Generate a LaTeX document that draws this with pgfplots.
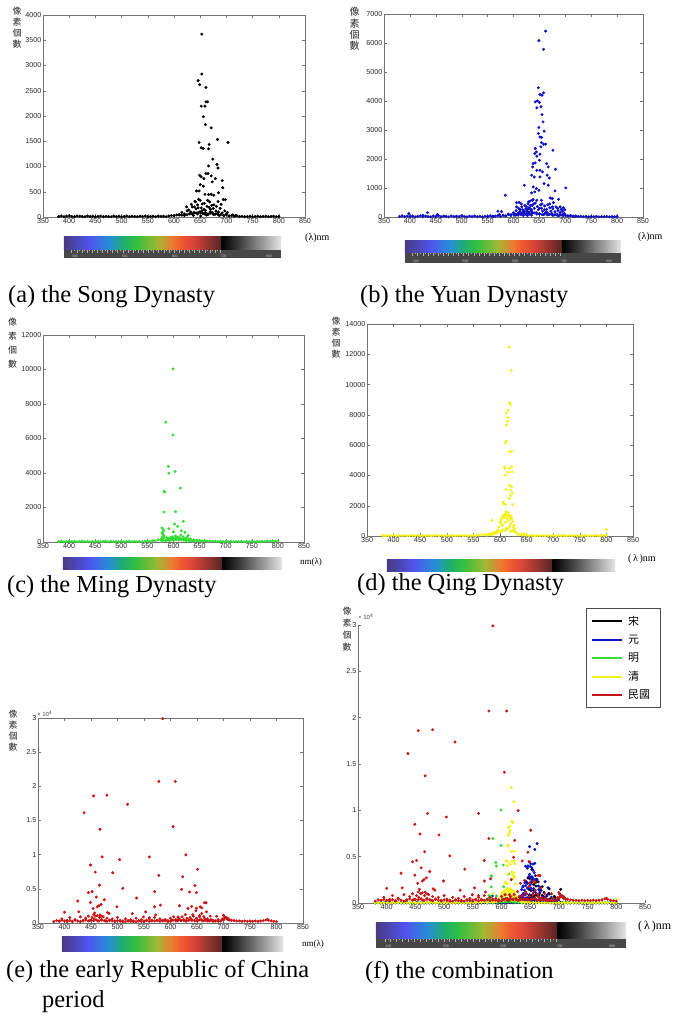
\documentclass[border=0pt]{standalone}
\usepackage{fontspec}
\setmainfont{Liberation Serif}
\setsansfont{Liberation Sans}
\newfontfamily\cjk{Noto Sans CJK TC}
\usepackage{pgfplots}
\usepackage{pgfplotstable}
\pgfplotsset{compat=1.18}

% spectrum strip colours (400 -> 700 nm), then the grey tail (700 -> 800 nm)
\definecolor{s0}{HTML}{4A3A82}\definecolor{s1}{HTML}{4F55F0}
\definecolor{s2}{HTML}{2590D5}\definecolor{s3}{HTML}{1FAE6E}
\definecolor{s4}{HTML}{33C03F}\definecolor{s5}{HTML}{9FB833}
\definecolor{s6}{HTML}{F07830}\definecolor{s7}{HTML}{F05A30}
\definecolor{s8}{HTML}{D84438}\definecolor{s9}{HTML}{6A2A2A}
\definecolor{s10}{HTML}{5A2222}
\definecolor{g0}{HTML}{000000}\definecolor{g1}{HTML}{1E1E1E}
\definecolor{g2}{HTML}{4A4A4A}\definecolor{g3}{HTML}{7A7A7A}
\definecolor{g4}{HTML}{A8A8A8}\definecolor{g5}{HTML}{E6E6E6}

\definecolor{song}{HTML}{000000}
\definecolor{yuan}{HTML}{1010C4}
\definecolor{ming}{HTML}{33DD33}
\definecolor{qing}{HTML}{F2F21A}
\definecolor{minguo}{HTML}{C81414}

% ---------------- data: wavelength (nm), pixel count ----------------
\pgfplotstableread[row sep=\\]{x y\\
653 3620\\653 2830\\646 2700\\649 2620\\661 2565\\664 2280\\661 2280\\652 2195\\659 2195\\
656 1985\\660 1830\\671 1765\\683 1535\\703 1475\\648 1475\\652 1370\\656 1355\\666 1350\\
667 1435\\674 1145\\682 1040\\684 970\\666 1010\\649 825\\652 795\\657 760\\661 860\\665 860\\
671 813\\673 695\\679 760\\692 720\\650 640\\656 610\\643 515\\648 515\\693 580\\685 480\\
659 450\\666 443\\671 450\\676 430\\694 345\\698 345\\684 305\\
625 120\\630 60\\635 200\\638 90\\640 310\\642 160\\645 240\\648 100\\650 330\\652 180\\655 70\\
658 270\\660 130\\663 210\\665 50\\668 300\\670 150\\673 90\\676 240\\680 120\\683 60\\688 170\\
692 80\\695 30\\700 60\\705 20\\610 40\\615 90\\620 30\\628 140\\633 250\\637 30\\644 80\\647 350\\
651 20\\654 260\\657 150\\662 40\\667 190\\672 230\\678 50\\685 100\\690 250\\641 300\\639 200\\
646 180\\653 120\\658 60\\664 330\\669 100\\675 170\\681 210\\687 30\\697 120\\702 90\\712 40\\
718 30\\624 200\\632 100\\
380 10\\385 20\\390 5\\395 15\\400 25\\405 10\\410 5\\415 20\\420 15\\425 10\\430 5\\435 20\\
440 10\\445 15\\450 5\\455 10\\460 20\\465 5\\470 15\\475 10\\480 5\\485 20\\490 10\\495 15\\
500 5\\505 10\\510 20\\515 5\\520 15\\525 10\\530 5\\535 15\\540 10\\545 20\\550 5\\555 10\\
560 15\\565 5\\570 20\\575 10\\580 15\\585 5\\590 20\\595 30\\600 25\\605 40\\610 50\\615 35\\
620 60\\625 45\\630 70\\635 55\\640 80\\645 60\\650 90\\655 70\\660 85\\665 60\\670 75\\675 50\\
680 65\\685 40\\690 55\\695 30\\700 45\\705 20\\710 30\\715 15\\720 25\\725 10\\730 15\\735 5\\
740 10\\745 15\\750 5\\755 10\\760 15\\765 5\\770 10\\775 15\\780 5\\785 10\\790 15\\795 5\\800 10\\
}\tabSong

\pgfplotstableread[row sep=\\]{x y\\
662 6410\\649 6080\\658 5780\\648 4455\\651 4225\\658 4280\\655 4200\\642 3970\\646 4005\\
650 3950\\645 3765\\653 3800\\655 3530\\657 3280\\649 3085\\659 2960\\648 2880\\651 2760\\
654 2740\\642 2360\\644 2245\\641 2185\\645 2095\\651 2165\\676 2300\\654 2565\\658 2510\\
662 2510\\653 2420\\638 1840\\642 1865\\650 1955\\664 1840\\667 1725\\681 1645\\637 1725\\
645 1610\\651 1610\\656 1555\\635 1440\\640 1380\\651 1380\\669 1345\\665 1440\\659 1150\\
667 1095\\621 1095\\638 1035\\644 980\\635 830\\641 865\\649 920\\680 900\\701 1000\\584 750\\
671 655\\675 635\\687 610\\677 495\\606 495\\636 575\\645 575\\654 575\\629 520\\577 185\\
398 115\\434 150\\453 80\\425 60\\
595 80\\600 150\\603 60\\605 220\\608 120\\610 300\\612 180\\614 90\\616 350\\618 250\\620 130\\
622 400\\624 280\\626 190\\628 450\\630 320\\632 550\\634 220\\636 400\\638 600\\640 300\\
642 480\\644 150\\646 360\\648 250\\650 100\\652 420\\654 300\\656 200\\658 80\\660 380\\
662 150\\664 260\\666 420\\668 90\\670 320\\672 200\\674 120\\676 280\\678 60\\680 180\\682 350\\
684 100\\686 220\\688 50\\690 150\\692 260\\694 80\\696 320\\698 120\\700 60\\705 40\\710 50\\
715 30\\720 20\\573 90\\580 60\\585 40\\590 100\\560 30\\570 200\\621 200\\623 100\\625 350\\
627 250\\629 150\\631 300\\633 400\\635 250\\637 150\\639 450\\627 50\\631 100\\635 60\\619 50\\
617 150\\613 250\\609 60\\606 350\\604 100\\615 450\\611 500\\650 300\\655 450\\660 250\\
665 150\\670 450\\675 350\\685 300\\690 350\\695 200\\699 250\\
380 20\\385 40\\390 10\\395 30\\400 15\\405 35\\410 5\\415 25\\420 40\\425 10\\430 30\\435 20\\
440 5\\445 35\\450 15\\455 45\\460 10\\465 30\\470 20\\475 5\\480 35\\485 15\\490 25\\495 10\\
500 40\\505 20\\510 5\\515 30\\520 15\\525 35\\530 10\\535 25\\540 5\\545 30\\550 20\\555 40\\
560 10\\565 30\\570 50\\575 20\\580 60\\585 30\\590 80\\595 50\\600 100\\605 70\\610 120\\
615 90\\620 150\\625 110\\630 160\\635 130\\640 140\\645 100\\650 120\\655 80\\660 110\\665 70\\
670 90\\675 60\\680 80\\685 50\\690 70\\695 40\\700 60\\705 30\\710 45\\715 20\\720 35\\725 15\\
730 25\\735 10\\740 20\\745 5\\750 15\\755 10\\760 20\\765 5\\770 15\\775 10\\780 20\\785 5\\
790 15\\795 10\\800 20\\
}\tabYuan

\pgfplotstableread[row sep=\\]{x y\\
599 10030\\585 6945\\599 6210\\590 4380\\591 3990\\603 4090\\613 3125\\582 2930\\583 2895\\
582 1735\\604 1755\\619 1195\\602 1040\\608 905\\591 770\\578 810\\615 655\\622 560\\628 385\\
578 520\\600 580\\
579 150\\579 300\\580 450\\580 600\\581 250\\581 700\\580 100\\582 350\\578 200\\577 80\\
585 60\\588 120\\590 200\\592 80\\594 250\\596 150\\598 300\\600 100\\602 220\\604 350\\606 150\\
608 280\\610 120\\612 240\\614 400\\616 180\\618 300\\620 100\\622 200\\624 80\\626 260\\628 140\\
630 60\\632 180\\634 100\\636 50\\638 120\\640 70\\645 90\\650 60\\655 40\\660 50\\587 250\\
595 200\\605 250\\611 200\\597 180\\603 150\\
380 20\\385 40\\390 10\\395 30\\400 50\\405 20\\410 40\\415 10\\420 30\\425 50\\430 20\\435 40\\
440 10\\445 30\\450 20\\455 40\\460 10\\465 30\\470 50\\475 20\\480 40\\485 10\\490 30\\495 20\\
500 40\\505 10\\510 30\\515 50\\520 20\\525 40\\530 10\\535 30\\540 20\\545 40\\550 60\\555 30\\
560 80\\565 50\\570 120\\575 150\\580 200\\585 100\\590 150\\595 120\\600 180\\605 140\\610 160\\
615 120\\620 140\\625 100\\630 120\\635 80\\640 100\\645 70\\650 90\\655 60\\660 80\\665 50\\
670 60\\675 40\\680 50\\685 30\\690 40\\695 20\\700 30\\705 20\\710 40\\715 10\\720 30\\725 20\\
730 40\\735 10\\740 30\\745 20\\750 40\\755 10\\760 30\\765 20\\770 40\\775 30\\780 60\\785 40\\
790 70\\795 50\\800 60\\
}\tabMing

\pgfplotstableread[row sep=\\]{x y\\
617 12460\\621 10915\\618 8800\\620 8690\\615 8310\\612 8140\\615 7830\\614 7585\\612 7320\\
612 6260\\610 6150\\618 5580\\622 5600\\608 4565\\610 4455\\618 4455\\622 4565\\615 4190\\
623 4235\\610 4015\\618 3350\\622 3240\\611 3085\\620 3020\\623 2845\\620 2670\\606 2250\\
610 2070\\607 2140\\624 2070\\617 2470\\585 1035\\
600 900\\602 1100\\604 1250\\606 1350\\608 1420\\610 1450\\612 1400\\614 1350\\616 1300\\
618 1380\\620 1250\\622 1150\\624 950\\626 700\\628 450\\630 250\\598 600\\596 400\\594 300\\
592 200\\590 250\\588 150\\585 180\\582 120\\580 90\\575 60\\605 700\\610 900\\615 1000\\
620 800\\612 500\\618 600\\603 300\\623 350\\601 1000\\607 1200\\613 1150\\619 1100\\621 1300\\
609 1300\\603 800\\625 600\\627 300\\611 1600\\616 1550\\800 440\\645 150\\640 100\\635 80\\650 60\\
380 30\\385 10\\390 40\\395 20\\400 50\\405 10\\410 30\\415 20\\420 40\\425 10\\430 30\\435 50\\
440 20\\445 40\\450 10\\455 30\\460 20\\465 40\\470 10\\475 30\\480 50\\485 20\\490 40\\495 10\\
500 30\\505 20\\510 40\\515 10\\520 30\\525 50\\530 20\\535 40\\540 10\\545 30\\550 20\\555 40\\
560 60\\565 80\\570 100\\575 70\\580 120\\585 90\\590 150\\595 200\\600 300\\605 400\\610 350\\
615 450\\620 300\\625 400\\630 200\\635 120\\640 80\\645 60\\650 40\\655 20\\660 40\\665 10\\
670 30\\675 20\\680 40\\685 10\\690 30\\695 20\\700 40\\705 10\\710 30\\715 20\\720 40\\725 10\\
730 30\\735 20\\740 40\\745 10\\750 30\\755 20\\760 40\\765 10\\770 30\\775 20\\780 40\\785 10\\
790 30\\795 20\\800 40\\
}\tabQing

\pgfplotstableread[row sep=\\]{x y\\
585 29900\\578 20720\\609 20720\\455 18600\\480 18700\\519 17370\\437 16130\\467 13720\\
605 14110\\471 9670\\560 9670\\629 9970\\449 8490\\504 9280\\458 7450\\491 7350\\578 6960\\
623 6760\\651 7850\\466 5530\\510 5080\\646 5480\\445 4440\\452 4590\\570 4590\\621 4930\\
636 4540\\649 4440\\460 3800\\536 3650\\475 3400\\425 3210\\449 3010\\664 2960\\667 2960\\
465 2520\\462 2370\\469 2710\\454 2120\\499 2370\\570 2370\\581 2610\\617 2520\\633 2120\\
640 2420\\649 2170\\656 2370\\659 2220\\400 1580\\427 1630\\457 1480\\481 1530\\484 1380\\
467 1180\\528 1380\\553 1630\\572 1180\\549 890\\560 790\\614 890\\628 1230\\648 1780\\
659 1380\\668 1630\\687 990\\700 1130\\
390 300\\395 600\\405 400\\410 800\\415 200\\420 500\\430 900\\435 300\\440 700\\445 1000\\
448 400\\452 800\\456 600\\459 1000\\463 300\\466 800\\470 500\\473 900\\477 300\\480 700\\
485 400\\490 600\\495 300\\500 800\\505 400\\510 200\\515 600\\520 300\\525 500\\530 200\\
535 700\\540 300\\545 500\\550 200\\555 400\\560 600\\565 300\\570 800\\575 400\\580 600\\
585 300\\590 500\\595 200\\600 700\\603 400\\606 900\\610 500\\613 300\\616 700\\619 400\\
622 900\\625 500\\628 300\\631 700\\634 400\\637 800\\640 500\\643 1000\\646 300\\649 700\\
652 400\\655 900\\658 500\\661 300\\664 700\\667 400\\670 600\\673 300\\676 500\\680 400\\
684 300\\690 500\\695 300\\698 600\\702 900\\705 700\\708 500\\712 400\\455 1200\\462 1100\\
470 1000\\642 1200\\655 1100\\663 950\\675 1000\\
380 200\\385 350\\390 250\\395 400\\400 300\\405 200\\410 350\\415 250\\420 400\\425 300\\
430 200\\435 350\\440 450\\445 300\\450 400\\455 350\\460 450\\465 300\\470 400\\475 350\\
480 250\\485 400\\490 300\\495 200\\500 350\\505 250\\510 300\\515 200\\520 350\\525 250\\
530 300\\535 200\\540 350\\545 250\\550 300\\555 350\\560 250\\565 400\\570 300\\575 350\\
580 250\\585 400\\590 300\\595 350\\600 250\\605 400\\610 300\\615 450\\620 350\\625 400\\
630 300\\635 450\\640 350\\645 400\\650 300\\655 450\\660 350\\665 400\\670 300\\675 350\\
680 250\\685 300\\690 250\\695 300\\700 450\\702 650\\705 800\\708 700\\710 550\\715 400\\
720 350\\725 300\\730 300\\735 250\\740 300\\745 250\\750 300\\755 250\\760 300\\765 250\\
770 300\\775 350\\780 450\\783 500\\785 400\\790 300\\795 250\\800 200\\
}\tabMinguo

\pgfplotsset{
  spec/.style={
    scale only axis,
    xmin=350, xmax=850, ymin=0,
    xtick={350,400,...,850},
    tick align=inside, major tick length=3bp,
    axis line style={draw=black!55, line width=0.5bp},
    tick style={draw=black!55, line width=0.4bp},
    ticklabel style={font=\sffamily\fontsize{7.2}{8}\selectfont, text=black!85},
    xticklabel style={inner sep=1.5pt},
    yticklabel style={inner sep=1.5pt},
    scaled ticks=false,
    /pgf/number format/1000 sep={},
    /pgf/number format/assume math mode=true,
    clip=false,
  },
  dot/.style={only marks, mark=*, mark size=1.3pt, color=#1},
}

% spectrum strip: x0, x1, top, bottom (picture pixels, measured from the top)
\newcommand\specbar[4]{%
  \pgfmathsetmacro\sbx{#1}\pgfmathsetmacro\sbw{0.727*(#2-#1)}%
  \pgfmathsetmacro\sbr{#1+\sbw}\pgfmathsetmacro\sbg{#2-\sbr}%
  \pgfmathsetmacro\sbt{1019-#3}\pgfmathsetmacro\sbb{1019-#4}%
  \foreach \fa/\fb/\ca/\cb in {0/.165/s0/s1,.165/.29/s1/s2,.29/.375/s2/s3,.375/.46/s3/s4,
      .46/.59/s4/s5,.59/.69/s5/s6,.69/.74/s6/s7,.74/.82/s7/s8,.82/.97/s8/s9,.97/1/s9/s10}{%
    \shade[left color=\ca, right color=\cb]
      ({\sbx+\fa*\sbw-0.2},\sbb) rectangle ({\sbx+\fb*\sbw+0.2},\sbt);}%
  \foreach \fa/\fb/\ca/\cb in {0/.15/g0/g1,.15/.35/g1/g2,.35/.55/g2/g3,.55/.75/g3/g4,.75/1/g4/g5}{%
    \shade[left color=\ca, right color=\cb]
      ({\sbr+\fa*\sbg-0.2},\sbb) rectangle ({\sbr+\fb*\sbg+0.2},\sbt);}%
}
% the little ruler under some of the strips
\newcommand\ruler[4]{%
  \pgfmathsetmacro\rt{1019-#3}\pgfmathsetmacro\rb{1019-#4}%
  \fill[black!72] (#1,\rb) rectangle (#2,\rt);
  \foreach \i in {0,...,58}{%
    \pgfmathsetmacro\tx{#1+(0.035+\i*0.0118)*(#2-#1)}%
    \pgfmathsetmacro\tl{mod(\i,2)==0 ? 2.6 : 1.5}%
    \draw[black!30, line width=0.35bp] (\tx,\rt) -- (\tx,\rt-\tl);}
  \foreach \f/\t in {0.05/400,0.28/500,0.51/600,0.735/700,0.945/800}{%
    \node[font=\sffamily\fontsize{3.5}{4}\selectfont, text=black!25, inner sep=0]
      at ({#1+\f*(#2-#1)},\rb+2) {\t};}
}

\begin{document}
\begin{tikzpicture}[x=1bp, y=1bp]
\useasboundingbox (0,0) rectangle (680,1019);

% ---------------- (a) Song ----------------
\begin{axis}[spec, at={(43bp,802bp)}, width=262bp, height=202bp,
  ymax=4000, ytick={0,500,...,4000}]
  \addplot[dot=song] table {\tabSong};
\end{axis}

% ---------------- (b) Yuan ----------------
\begin{axis}[spec, at={(384bp,802bp)}, width=259bp, height=203bp,
  ymax=7000, ytick={0,1000,...,7000}]
  \addplot[dot=yuan] table {\tabYuan};
\end{axis}

% ---------------- (c) Ming ----------------
\begin{axis}[spec, at={(43bp,477bp)}, width=261bp, height=207bp,
  ymax=12000, ytick={0,2000,...,12000}]
  \addplot[dot=ming] table {\tabMing};
\end{axis}

% ---------------- (d) Qing ----------------
\begin{axis}[spec, at={(367bp,483bp)}, width=266bp, height=212bp,
  ymax=14000, ytick={0,2000,...,14000}]
  \addplot[dot=qing] table {\tabQing};
\end{axis}

% ---------------- (e) early Republic ----------------
\begin{axis}[spec, at={(38bp,96bp)}, width=265bp, height=205bp,
  ymax=30000, ytick={0,5000,...,30000},
  yticklabels={0,0.5,1,1.5,2,2.5,3}]
  \addplot[dot=minguo] table {\tabMinguo};
\end{axis}

% ---------------- (f) all together ----------------
\begin{axis}[spec, at={(358bp,116bp)}, width=287bp, height=278bp,
  ymax=30000, ytick={0,5000,...,30000},
  yticklabels={0,0.5,1,1.5,2,2.5,3},
  axis x line*=bottom, axis y line*=left,
  legend image code/.code={\draw[#1] (0bp,0bp) -- (30bp,0bp);},
  legend style={at={(0.794,1.061)}, anchor=north west, draw=black!70,
    line width=0.6bp, font=\cjk\fontsize{11}{11}\selectfont,
    row sep=4.2bp, inner xsep=5bp, inner ysep=5.5bp,
    nodes={inner xsep=5bp}},
  legend cell align=left]
  \addplot[dot=song, forget plot] table {\tabSong};
  \addplot[dot=yuan, forget plot] table {\tabYuan};
  \addplot[dot=ming, forget plot] table {\tabMing};
  \addplot[dot=qing, forget plot] table {\tabQing};
  \addplot[dot=minguo, forget plot] table {\tabMinguo};
  \addlegendimage{draw=song, line width=2bp}\addlegendentry{宋}
  \addlegendimage{draw=yuan, line width=2bp}\addlegendentry{元}
  \addlegendimage{draw=ming, line width=2bp}\addlegendentry{明}
  \addlegendimage{draw=qing, line width=2bp}\addlegendentry{清}
  \addlegendimage{draw=minguo, line width=2bp}\addlegendentry{民國}
\end{axis}

% ---------------- spectrum strips ----------------
\specbar{64}{281}{237}{250}\ruler{64}{281}{250}{258}
\specbar{405}{621}{241}{253}\ruler{405}{621}{253}{263}
\specbar{63}{282}{558}{570}
\specbar{387}{615}{560}{572}
\specbar{62}{283}{937}{952}
\specbar{376}{626}{923}{939}\ruler{376}{626}{939}{948}

% ---------------- y labels ----------------
\begin{scope}[every node/.style={anchor=north, align=center, inner sep=0, text=black!85}]
  \node[font=\cjk\fontsize{9}{11}\selectfont] at (17,1012) {像\\素\\個\\數};
  \node[font=\cjk\fontsize{10}{11.5}\selectfont] at (354.5,1012) {像\\素\\個\\數};
  \node[font=\cjk\fontsize{9}{14}\selectfont] at (12.5,701) {像\\素\\個\\數};
  \node[font=\cjk\fontsize{9}{11}\selectfont] at (336,702) {像\\素\\個\\數};
  \node[font=\cjk\fontsize{9}{11}\selectfont] at (13,309) {像\\素\\個\\數};
  \node[font=\cjk\fontsize{9}{12}\selectfont] at (347,412) {像\\素\\個\\數};
\end{scope}
\node[anchor=south west, inner sep=0, font=\sffamily\fontsize{6}{6}\selectfont, text=black!70]
  at (37,302) {× 10\textsuperscript{4}};
\node[anchor=south west, inner sep=0, font=\sffamily\fontsize{6}{6}\selectfont, text=black!70]
  at (358,399) {× 10\textsuperscript{4}};

% ---------------- wavelength tags ----------------
\node[anchor=west, inner sep=0, font=\fontsize{10}{12}\selectfont] at (305,781) {(λ)nm};
\node[anchor=west, inner sep=0, font=\fontsize{10}{12}\selectfont] at (638,782) {(λ)nm};
\node[anchor=west, inner sep=0, font=\fontsize{9}{11}\selectfont] at (300,457) {nm(λ)};
\node[anchor=west, inner sep=0, font=\fontsize{10}{12}\selectfont] at (628,460) {(\,λ\,)nm};
\node[anchor=west, inner sep=0, font=\fontsize{9}{11}\selectfont] at (302,75) {nm(λ)};
\node[anchor=west, inner sep=0, font=\fontsize{12}{14}\selectfont] at (638,92) {(\,λ\,)nm};

% ---------------- captions ----------------
\begin{scope}[every node/.style={anchor=base west, inner sep=0, font=\fontsize{24.5}{29}\selectfont}]
  \node at (8,716) {(a) the Song Dynasty};
  \node at (360,716) {(b) the Yuan Dynasty};
  \node at (7,426) {(c) the Ming Dynasty};
  \node at (357,428) {(d) the Qing Dynasty};
  \node at (6,41) {(e) the early Republic of China};
  \node at (42,11) {period};
  \node at (365,40) {(f) the combination};
\end{scope}
\end{tikzpicture}
\end{document}
